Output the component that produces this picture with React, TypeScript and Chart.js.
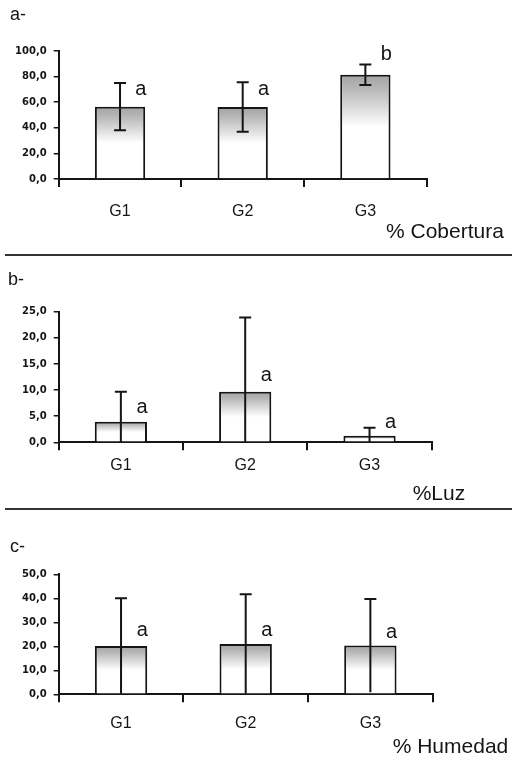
import React, { useEffect, useRef } from "react";
import { Chart, registerables } from "chart.js";

Chart.register(...registerables);

// ---------- data ----------
const categories = ["G1", "G2", "G3"];

const coberturaMeans = [56.5, 56.2, 81.5];
const coberturaSD = [18.5, 19.3, 8.0];
const coberturaLetters = ["a", "a", "b"];
const coberturaLetterY = [66, 66, 93];
const coberturaMax = 100;
const coberturaStep = 20;

const luzMeans = [3.95, 9.7, 1.27];
const luzSD = [5.75, 14.2, 1.5];
const luzLetters = ["a", "a", "a"];
const luzLetterY = [5.6, 11.8, 2.7];
const luzMax = 25;
const luzStep = 5;

const humedadMeans = [20.1, 21.0, 20.3];
const humedadSD = [19.9, 20.7, 19.4];
const humedadLetters = ["a", "a", "a"];
const humedadLetterY = [24.3, 24.3, 23.6];
const humedadMax = 50;
const humedadStep = 10;

const panelTitles = ["a-", "b-", "c-"];
const axisTitles = ["% Cobertura", "%Luz", "% Humedad"];

// ---------- layout ----------
type PanelCfg = {
  top: number;
  height: number;
  area: { left: number; right: number; top: number; bottom: number };
  tickPad: number;
  barPct: number;
  titlePos: [number, number];
  axisTitlePos: [number, number];
  title: string;
  axisTitle: string;
  means: number[];
  sd: number[];
  letters: string[];
  letterY: number[];
  max: number;
  step: number;
};

const panels: PanelCfg[] = [
  {
    top: 0,
    height: 254,
    area: { left: 58.7, right: 426.7, top: 51, bottom: 179 },
    tickPad: 15,
    barPct: 0.41,
    titlePos: [10, 20],
    axisTitlePos: [386, 238],
    title: panelTitles[0],
    axisTitle: axisTitles[0],
    means: coberturaMeans,
    sd: coberturaSD,
    letters: coberturaLetters,
    letterY: coberturaLetterY,
    max: coberturaMax,
    step: coberturaStep,
  },
  {
    top: 256,
    height: 252,
    area: { left: 58.7, right: 431.7, top: 55.7, bottom: 186.3 },
    tickPad: 5.6,
    barPct: 0.42,
    titlePos: [8, 29],
    axisTitlePos: [412.7, 244],
    title: panelTitles[1],
    axisTitle: axisTitles[1],
    means: luzMeans,
    sd: luzSD,
    letters: luzLetters,
    letterY: luzLetterY,
    max: luzMax,
    step: luzStep,
  },
  {
    top: 510,
    height: 248,
    area: { left: 58.7, right: 432.7, top: 64.3, bottom: 184.3 },
    tickPad: 12,
    barPct: 0.42,
    titlePos: [10, 42],
    axisTitlePos: [392.7, 243.3],
    title: panelTitles[2],
    axisTitle: axisTitles[2],
    means: humedadMeans,
    sd: humedadSD,
    letters: humedadLetters,
    letterY: humedadLetterY,
    max: humedadMax,
    step: humedadStep,
  },
];

const INK = "#151515";
const SANS = "'Liberation Sans', Arial, sans-serif";

function makePlugin(p: PanelCfg) {
  return {
    id: "annot",
    afterDatasetsDraw(chart: any) {
      const ctx = chart.ctx as CanvasRenderingContext2D;
      const ys = chart.scales.y;
      const meta = chart.getDatasetMeta(0);
      const ca = chart.chartArea;
      const catW = (ca.right - ca.left) / categories.length;
      ctx.save();
      ctx.strokeStyle = INK;
      ctx.lineWidth = 2;
      ctx.lineCap = "butt";
      p.means.forEach((m, i) => {
        const x = meta.data[i].x;
        const topV = m + p.sd[i];
        const lowV = Math.max(0, m - p.sd[i]);
        const yt = ys.getPixelForValue(topV);
        const yb = ys.getPixelForValue(lowV);
        ctx.beginPath();
        ctx.moveTo(x, yt);
        ctx.lineTo(x, yb);
        ctx.moveTo(x - 6, yt);
        ctx.lineTo(x + 6, yt);
        if (lowV > p.max * 0.05) {
          ctx.moveTo(x - 6, yb);
          ctx.lineTo(x + 6, yb);
        }
        ctx.stroke();
      });
      ctx.fillStyle = INK;
      ctx.font = `20px ${SANS}`;
      ctx.textAlign = "center";
      ctx.textBaseline = "alphabetic";
      p.letters.forEach((l, i) => {
        const x = meta.data[i].x + 0.17 * catW;
        ctx.fillText(l, x, ys.getPixelForValue(p.letterY[i]));
      });
      ctx.restore();
    },
    afterDraw(chart: any) {
      const ctx = chart.ctx as CanvasRenderingContext2D;
      ctx.save();
      ctx.fillStyle = INK;
      ctx.textAlign = "left";
      ctx.textBaseline = "alphabetic";
      ctx.font = `18px ${SANS}`;
      ctx.fillText(p.title, p.titlePos[0], p.titlePos[1]);
      ctx.font = `21px ${SANS}`;
      ctx.fillText(p.axisTitle, p.axisTitlePos[0], p.axisTitlePos[1]);
      ctx.restore();
    },
  };
}

function Panel({ p }: { p: PanelCfg }) {
  const ref = useRef<HTMLCanvasElement | null>(null);
  useEffect(() => {
    if (!ref.current) return;
    const chart = new Chart(ref.current, {
      type: "bar",
      data: {
        labels: categories,
        datasets: [
          {
            data: p.means,
            borderColor: INK,
            borderWidth: 2,
            barPercentage: p.barPct,
            categoryPercentage: 1,
            backgroundColor: (c: any) => {
              const ch = c.chart;
              if (!ch.chartArea || c.dataIndex == null) return "#ffffff";
              const ys = ch.scales.y;
              const v = p.means[c.dataIndex];
              const t = ys.getPixelForValue(v);
              const b = ys.getPixelForValue(0);
              if (!isFinite(t) || !isFinite(b) || b - t < 1) return "#ffffff";
              const g = ch.ctx.createLinearGradient(0, t, 0, b);
              g.addColorStop(0, "#a4a4a4");
              g.addColorStop(0.12, "#b4b4b4");
              g.addColorStop(0.5, "#ffffff");
              g.addColorStop(1, "#ffffff");
              return g;
            },
          },
        ],
      },
      options: {
        animation: false,
        responsive: false,
        events: [],
        layout: {
          padding: { top: p.area.top, right: 512 - p.area.right, left: 0, bottom: 0 },
        },
        plugins: {
          legend: { display: false },
          tooltip: { enabled: false },
          title: { display: false },
        },
        scales: {
          x: {
            grid: {
              display: true,
              drawOnChartArea: false,
              drawTicks: true,
              tickLength: 8,
              color: INK,
              lineWidth: 2,
              offset: true,
            },
            border: { display: true, color: INK, width: 2 },
            ticks: {
              font: { family: SANS, size: 16 },
              color: INK,
              padding: p.tickPad,
              maxRotation: 0,
              autoSkip: false,
            },
            afterFit: (s: any) => {
              s.height = p.height - p.area.bottom;
            },
          },
          y: {
            min: 0,
            max: p.max,
            ticks: {
              stepSize: p.step,
              callback: (v: any) => Number(v).toFixed(1).replace(".", ","),
              font: { family: "'DejaVu Sans', sans-serif", size: 10, weight: "bold" },
              color: INK,
              padding: 7,
            },
            grid: {
              drawOnChartArea: false,
              drawTicks: true,
              tickLength: 5,
              color: INK,
              lineWidth: 1.5,
            },
            border: { display: true, color: INK, width: 2 },
            afterFit: (s: any) => {
              s.width = p.area.left;
            },
          },
        },
      },
      plugins: [makePlugin(p)],
    } as any);
    return () => chart.destroy();
  }, []);
  return (
    <canvas
      ref={ref}
      width={512}
      height={p.height}
      style={{ position: "absolute", left: 0, top: p.top, display: "block" }}
    />
  );
}

export default function App() {
  return (
    <div
      style={{
        position: "absolute",
        left: 0,
        top: 0,
        width: 512,
        height: 758,
        background: "#ffffff",
        overflow: "hidden",
      }}
    >
      {panels.map((p, i) => (
        <Panel key={i} p={p} />
      ))}
      <div style={{ position: "absolute", left: 5, top: 254, width: 507, height: 2, background: "#333" }} />
      <div style={{ position: "absolute", left: 5, top: 508, width: 507, height: 2, background: "#333" }} />
    </div>
  );
}
